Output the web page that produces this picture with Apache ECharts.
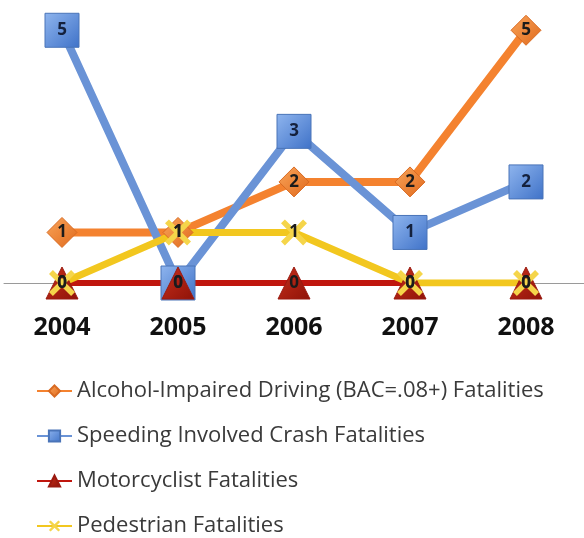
<!DOCTYPE html>
<html>
<head>
<meta charset="utf-8">
<script src="https://cdn.jsdelivr.net/npm/echarts@6/dist/echarts.min.js"></script>
<style>
  html, body { margin: 0; padding: 0; background: #fff; }
  #chart { width: 584px; height: 538px; }
</style>
</head>
<body>
<div id="chart"></div>
<script>
// 年份 & 各类死亡人数
var years = ['2004', '2005', '2006', '2007', '2008'];
var alcohol = [1, 1, 2, 2, 5];
var speeding = [5, 0, 3, 1, 2];
var motorcycle = [0, 0, 0, 0, 0];
var pedestrian = [0, 1, 1, 0, 0];

var names = [
  'Alcohol-Impaired Driving (BAC=.08+) Fatalities',
  'Speeding Involved Crash Fatalities',
  'Motorcyclist Fatalities',
  'Pedestrian Fatalities'
];

var xSymbol = 'path://M0,1.5 L1.5,0 L5,3.5 L8.5,0 L10,1.5 L6.5,5 L10,8.5 L8.5,10 L5,6.5 L1.5,10 L0,8.5 L3.5,5 Z';

function grad(c1, c2) {
  return new echarts.graphic.LinearGradient(0, 0, 1, 1, [
    {offset: 0, color: c1},
    {offset: 1, color: c2}
  ]);
}

var lbl = {
  show: true,
  position: 'inside',
  color: '#1b1b1b',
  fontFamily: 'Open Sans',
  fontWeight: 'bold',
  fontSize: 17
};

var chart = echarts.init(document.getElementById('chart'));
chart.setOption({
  animation: false,
  grid: {left: 4, right: 0, top: 5, height: 278},
  legend: {
    orient: 'vertical',
    left: 31,
    top: 375,
    height: 200,
    itemWidth: 35,
    itemHeight: 14,
    itemGap: 23,
    textStyle: {fontFamily: 'Open Sans', fontSize: 22, color: '#3a3a3a'},
    data: names
  },
  xAxis: {
    type: 'category',
    data: years,
    boundaryGap: true,
    axisLine: {lineStyle: {color: '#9a9a9a', width: 1}},
    axisTick: {show: false},
    axisLabel: {
      color: '#111',
      fontFamily: 'Open Sans',
      fontWeight: 'bold',
      fontSize: 25,
      margin: 32
    }
  },
  yAxis: {
    type: 'value',
    min: 0,
    max: 5.5,
    show: false,
    splitLine: {show: false}
  },
  series: [
    {
      name: names[0],
      type: 'line',
      data: alcohol,
      symbol: 'diamond',
      symbolSize: 30,
      lineStyle: {color: '#f4822f', width: 8},
      itemStyle: {color: grad('#f9a55a', '#e0691c'), borderColor: '#d86a22', borderWidth: 1},
      label: lbl
    },
    {
      name: names[1],
      type: 'line',
      data: speeding,
      symbol: 'rect',
      symbolSize: 34,
      lineStyle: {color: '#6a93d6', width: 8},
      itemStyle: {color: grad('#8fb5ee', '#3f72c8'), borderColor: '#4a74b8', borderWidth: 1},
      label: Object.assign({}, lbl, {color: '#14213d'})
    },
    {
      name: names[2],
      type: 'line',
      data: motorcycle,
      symbol: 'triangle',
      symbolSize: 32,
      lineStyle: {color: '#c0160e', width: 6},
      itemStyle: {color: grad('#c8301c', '#8e1208'), borderColor: '#9a1a10', borderWidth: 1},
      label: lbl
    },
    {
      name: names[3],
      type: 'line',
      data: pedestrian,
      symbol: xSymbol,
      symbolSize: 26,
      lineStyle: {color: '#f2c71f', width: 7},
      itemStyle: {color: '#f5d54a'},
      label: lbl
    }
  ]
});
</script>
</body>
</html>
